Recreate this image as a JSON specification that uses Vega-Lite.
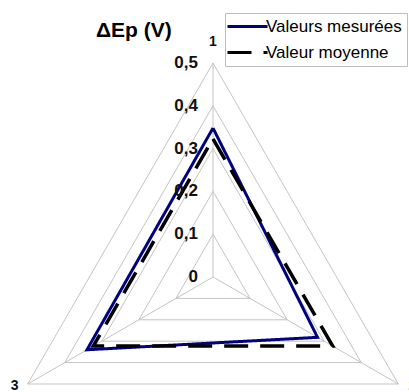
{
  "$schema": "https://vega.github.io/schema/vega-lite/v6.json",
  "width": 409,
  "height": 392,
  "autosize": {"type": "none"},
  "padding": 0,
  "background": "white",
  "config": {"view": {"stroke": null}, "font": "Liberation Sans"},
  "title": {"text": "ΔEp (V)", "anchor": "start", "orient": "top", "dx": 96, "dy": 45, "fontSize": 21, "fontWeight": "bold", "font": "Liberation Sans", "color": "#000000"},
  "datasets": {
    "mesures": [
      {"serie": "Valeurs mesurées", "axe": 1, "ordre": 1, "valeur": 0.348},
      {"serie": "Valeurs mesurées", "axe": 2, "ordre": 2, "valeur": 0.282},
      {"serie": "Valeurs mesurées", "axe": 3, "ordre": 3, "valeur": 0.340},
      {"serie": "Valeurs mesurées", "axe": 1, "ordre": 4, "valeur": 0.348},
      {"serie": "Valeur moyenne", "axe": 1, "ordre": 1, "valeur": 0.323},
      {"serie": "Valeur moyenne", "axe": 2, "ordre": 2, "valeur": 0.323},
      {"serie": "Valeur moyenne", "axe": 3, "ordre": 3, "valeur": 0.323},
      {"serie": "Valeur moyenne", "axe": 1, "ordre": 4, "valeur": 0.323}
    ],
    "grille": [
      {"niveau": 0.1, "axe": 1, "ordre": 1}, {"niveau": 0.1, "axe": 2, "ordre": 2}, {"niveau": 0.1, "axe": 3, "ordre": 3}, {"niveau": 0.1, "axe": 1, "ordre": 4},
      {"niveau": 0.2, "axe": 1, "ordre": 1}, {"niveau": 0.2, "axe": 2, "ordre": 2}, {"niveau": 0.2, "axe": 3, "ordre": 3}, {"niveau": 0.2, "axe": 1, "ordre": 4},
      {"niveau": 0.3, "axe": 1, "ordre": 1}, {"niveau": 0.3, "axe": 2, "ordre": 2}, {"niveau": 0.3, "axe": 3, "ordre": 3}, {"niveau": 0.3, "axe": 1, "ordre": 4},
      {"niveau": 0.4, "axe": 1, "ordre": 1}, {"niveau": 0.4, "axe": 2, "ordre": 2}, {"niveau": 0.4, "axe": 3, "ordre": 3}, {"niveau": 0.4, "axe": 1, "ordre": 4},
      {"niveau": 0.5, "axe": 1, "ordre": 1}, {"niveau": 0.5, "axe": 2, "ordre": 2}, {"niveau": 0.5, "axe": 3, "ordre": 3}, {"niveau": 0.5, "axe": 1, "ordre": 4}
    ],
    "axes": [
      {"axe": 1, "nom": "1", "max": 0.5},
      {"axe": 2, "nom": "2", "max": 0.5},
      {"axe": 3, "nom": "3", "max": 0.5}
    ],
    "niveaux": [
      {"niveau": 0, "texte": "0"},
      {"niveau": 0.1, "texte": "0,1"},
      {"niveau": 0.2, "texte": "0,2"},
      {"niveau": 0.3, "texte": "0,3"},
      {"niveau": 0.4, "texte": "0,4"},
      {"niveau": 0.5, "texte": "0,5"}
    ]
  },
  "layer": [
    {
      "data": {"name": "grille"},
      "transform": [
        {"calculate": "PI/2 - (datum.axe - 1) * 2 * PI / 3", "as": "angle"},
        {"calculate": "datum.niveau * cos(datum.angle)", "as": "px"},
        {"calculate": "datum.niveau * sin(datum.angle)", "as": "py"}
      ],
      "mark": {"type": "line", "color": "#c4c4c4", "strokeWidth": 1},
      "encoding": {
        "x": {"field": "px", "type": "quantitative", "axis": null, "scale": {"domain": [-0.49766, 0.45794], "nice": false, "zero": false}},
        "y": {"field": "py", "type": "quantitative", "axis": null, "scale": {"domain": [-0.26869, 0.6472], "nice": false, "zero": false}},
        "detail": {"field": "niveau", "type": "nominal"},
        "order": {"field": "ordre", "type": "quantitative"}
      }
    },
    {
      "data": {"name": "axes"},
      "transform": [
        {"calculate": "PI/2 - (datum.axe - 1) * 2 * PI / 3", "as": "angle"},
        {"calculate": "datum.max * cos(datum.angle)", "as": "px"},
        {"calculate": "datum.max * sin(datum.angle)", "as": "py"},
        {"calculate": "0", "as": "centre"}
      ],
      "mark": {"type": "rule", "color": "#c4c4c4", "strokeWidth": 1},
      "encoding": {
        "x": {"field": "centre", "type": "quantitative"},
        "y": {"field": "centre", "type": "quantitative"},
        "x2": {"field": "px"},
        "y2": {"field": "py"}
      }
    },
    {
      "data": {"name": "mesures"},
      "transform": [
        {"filter": "datum.serie === 'Valeurs mesurées'"},
        {"calculate": "PI/2 - (datum.axe - 1) * 2 * PI / 3", "as": "angle"},
        {"calculate": "datum.valeur * cos(datum.angle)", "as": "px"},
        {"calculate": "datum.valeur * sin(datum.angle)", "as": "py"}
      ],
      "mark": {"type": "line", "strokeWidth": 3},
      "encoding": {
        "x": {"field": "px", "type": "quantitative"},
        "y": {"field": "py", "type": "quantitative"},
        "order": {"field": "ordre", "type": "quantitative"},
        "color": {"field": "serie", "type": "nominal", "scale": {"domain": ["Valeurs mesurées", "Valeur moyenne"], "range": ["#000080", "#000000"]},
          "legend": {"orient": "none", "legendX": 225, "legendY": 13, "title": null, "symbolType": "M-8,0H8", "symbolSize": 25, "symbolOffset": 9, "symbolStrokeWidth": 3, "labelFontSize": 17, "labelFont": "Liberation Sans", "labelColor": "#000000", "strokeColor": "#bdbdbd", "fillColor": "white", "padding": 5, "rowPadding": 8, "labelOffset": 10}},
        "strokeDash": {"field": "serie", "type": "nominal", "scale": {"domain": ["Valeurs mesurées", "Valeur moyenne"], "range": [[1, 0], [24, 12]]},
          "legend": {"orient": "none", "legendX": 225, "legendY": 13, "title": null, "symbolType": "M-8,0H8", "symbolSize": 25, "symbolOffset": 9, "symbolStrokeWidth": 3, "labelFontSize": 17, "labelFont": "Liberation Sans", "labelColor": "#000000", "strokeColor": "#bdbdbd", "fillColor": "white", "padding": 5, "rowPadding": 8, "labelOffset": 10}}
      }
    },
    {
      "data": {"name": "mesures"},
      "transform": [
        {"filter": "datum.serie === 'Valeur moyenne'"},
        {"calculate": "PI/2 - (datum.axe - 1) * 2 * PI / 3", "as": "angle"},
        {"calculate": "datum.valeur * cos(datum.angle)", "as": "px"},
        {"calculate": "datum.valeur * sin(datum.angle)", "as": "py"}
      ],
      "mark": {"type": "line", "strokeWidth": 3.5},
      "encoding": {
        "x": {"field": "px", "type": "quantitative"},
        "y": {"field": "py", "type": "quantitative"},
        "order": {"field": "ordre", "type": "quantitative"},
        "color": {"field": "serie", "type": "nominal"},
        "strokeDash": {"field": "serie", "type": "nominal"}
      }
    },
    {
      "data": {"name": "niveaux"},
      "transform": [{"calculate": "0", "as": "centre"}],
      "mark": {"type": "text", "align": "right", "baseline": "middle", "dx": -15, "fontSize": 17, "fontWeight": "bold", "font": "Liberation Sans", "color": "#111111"},
      "encoding": {
        "x": {"field": "centre", "type": "quantitative"},
        "y": {"field": "niveau", "type": "quantitative"},
        "text": {"field": "texte"}
      }
    },
    {
      "data": {"name": "axes"},
      "transform": [
        {"filter": "datum.axe === 1"},
        {"calculate": "PI/2 - (datum.axe - 1) * 2 * PI / 3", "as": "angle"},
        {"calculate": "datum.max * cos(datum.angle)", "as": "px"},
        {"calculate": "datum.max * sin(datum.angle)", "as": "py"}
      ],
      "mark": {"type": "text", "align": "center", "baseline": "middle", "dy": -21, "fontSize": 14, "fontWeight": "bold", "font": "Liberation Sans", "color": "#111111"},
      "encoding": {
        "x": {"field": "px", "type": "quantitative"},
        "y": {"field": "py", "type": "quantitative"},
        "text": {"field": "nom"}
      }
    },
    {
      "data": {"name": "axes"},
      "transform": [
        {"filter": "datum.axe === 2"},
        {"calculate": "PI/2 - (datum.axe - 1) * 2 * PI / 3", "as": "angle"},
        {"calculate": "datum.max * cos(datum.angle)", "as": "px"},
        {"calculate": "datum.max * sin(datum.angle)", "as": "py"}
      ],
      "mark": {"type": "text", "align": "center", "baseline": "middle", "dx": 14, "dy": 2, "fontSize": 14, "fontWeight": "bold", "font": "Liberation Sans", "color": "#111111"},
      "encoding": {
        "x": {"field": "px", "type": "quantitative"},
        "y": {"field": "py", "type": "quantitative"},
        "text": {"field": "nom"}
      }
    },
    {
      "data": {"name": "axes"},
      "transform": [
        {"filter": "datum.axe === 3"},
        {"calculate": "PI/2 - (datum.axe - 1) * 2 * PI / 3", "as": "angle"},
        {"calculate": "datum.max * cos(datum.angle)", "as": "px"},
        {"calculate": "datum.max * sin(datum.angle)", "as": "py"}
      ],
      "mark": {"type": "text", "align": "center", "baseline": "middle", "dx": -13, "dy": 2, "fontSize": 14, "fontWeight": "bold", "font": "Liberation Sans", "color": "#111111"},
      "encoding": {
        "x": {"field": "px", "type": "quantitative"},
        "y": {"field": "py", "type": "quantitative"},
        "text": {"field": "nom"}
      }
    }
  ]
}
